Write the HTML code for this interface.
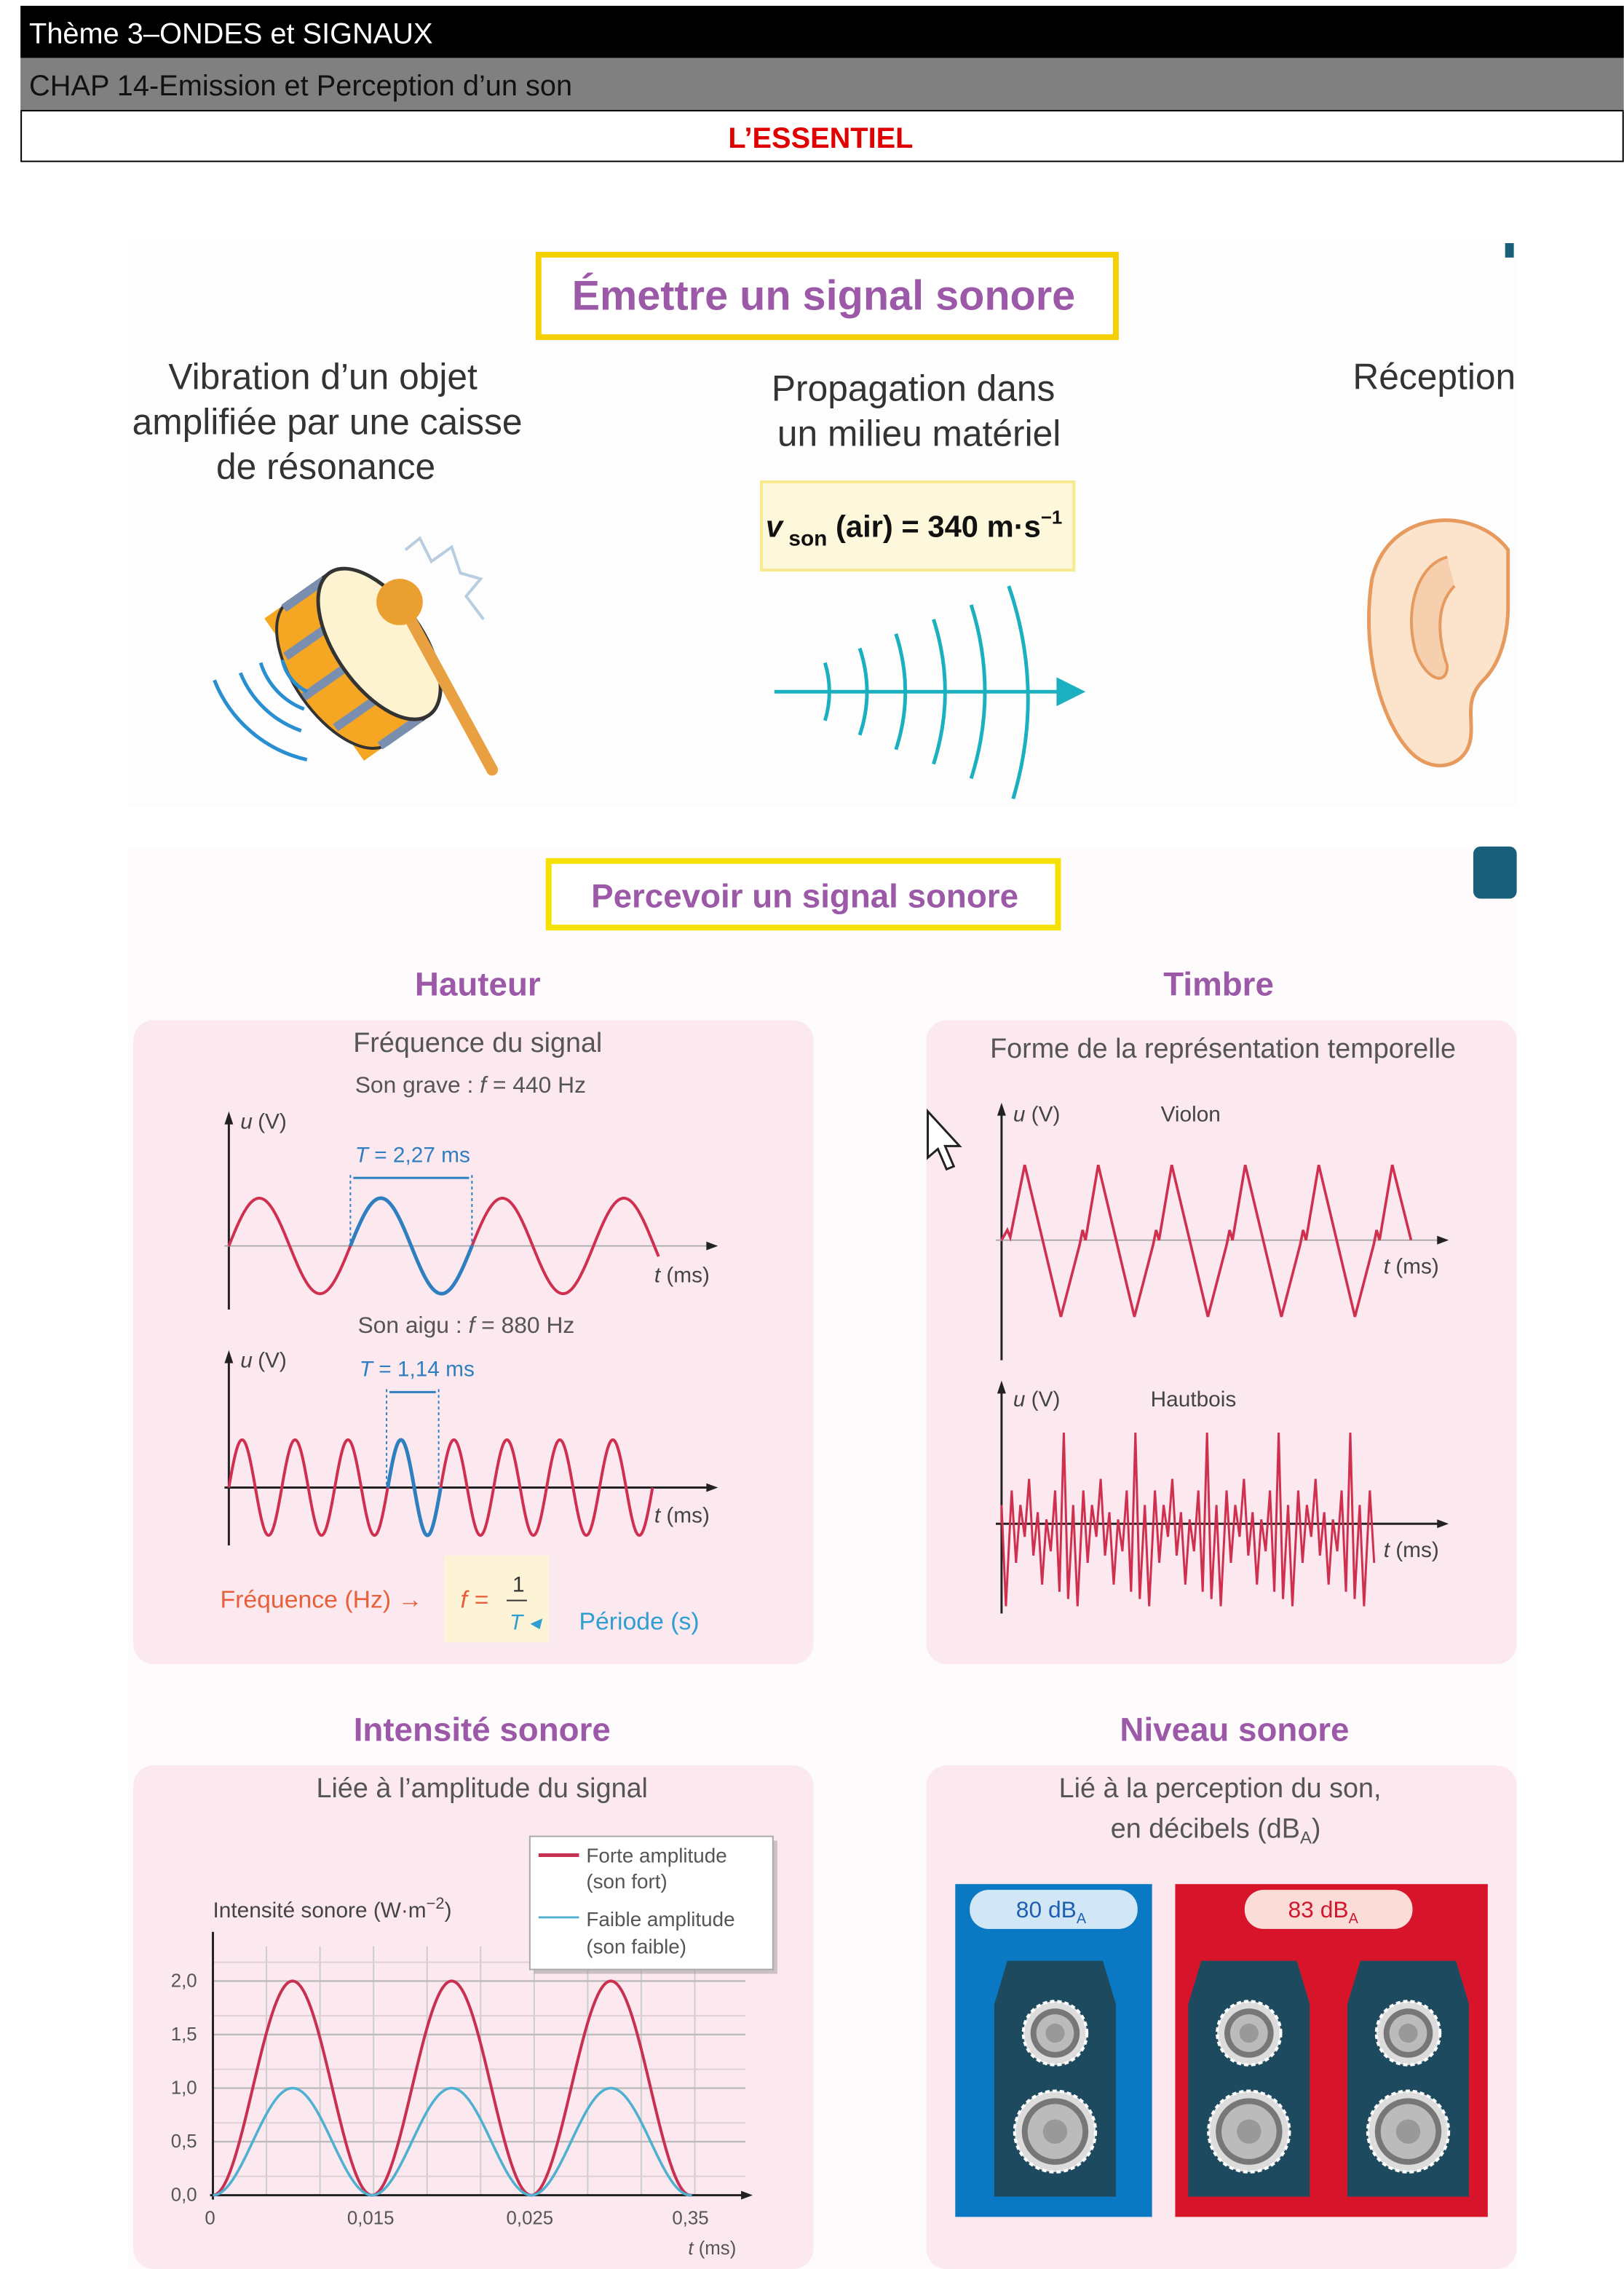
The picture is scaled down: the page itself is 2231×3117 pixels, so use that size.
<!DOCTYPE html>
<html><head><meta charset="utf-8">
<style>
html,body{margin:0;padding:0;background:#fff;}
svg{display:block;}
text{font-family:"Liberation Sans",sans-serif;}
</style></head>
<body>
<svg width="2231" height="3117" viewBox="0 0 1122 1568" xmlns="http://www.w3.org/2000/svg">
<rect x="14" y="4" width="1108" height="36" fill="#000"/>
<text x="20" y="30" font-size="20" fill="#fff">Thème 3–ONDES et SIGNAUX</text>
<rect x="14" y="40" width="1108" height="36" fill="#808080"/>
<text x="20" y="66" font-size="20" fill="#111">CHAP 14-Emission et Perception d’un son</text>
<rect x="14.5" y="76.5" width="1107" height="35" fill="#fff" stroke="#000" stroke-width="1"/>
<text x="567" y="102" font-size="20" fill="#e00000" font-weight="bold" text-anchor="middle">L’ESSENTIEL</text>

<rect x="88" y="168" width="960" height="390" fill="#fdfdfd"/>
<rect x="1040" y="168" width="6" height="10" fill="#1a5f7a"/>
<rect x="372" y="176" width="399" height="57" fill="#fff" stroke="#f5d000" stroke-width="4"/>
<text x="569" y="214" font-size="29" fill="#9b59a8" font-weight="bold" text-anchor="middle">Émettre un signal sonore</text>
<g font-size="25" fill="#333" text-anchor="middle">
<text x="223" y="269">Vibration d’un objet</text>
<text x="226" y="300">amplifiée par une caisse</text>
<text x="225" y="331">de résonance</text>
<text x="631" y="277">Propagation dans</text>
<text x="635" y="308">un milieu matériel</text>
<text x="991" y="269">Réception</text>
</g>
<rect x="526" y="333" width="216" height="61" fill="#fdf8dc" stroke="#f6e98e" stroke-width="2"/>
<text x="529" y="371" font-size="21" fill="#111" font-weight="bold"><tspan font-style="italic">v</tspan><tspan font-size="15" dy="6"> son</tspan><tspan dy="-6"> (air) = 340 m·s</tspan><tspan font-size="13" dy="-9">−1</tspan></text>

<g transform="translate(262,445) rotate(-35)">
<rect x="-55" y="-60" width="40" height="120" fill="#f5a623"/>
<ellipse cx="-35" cy="0" rx="30" ry="60" fill="#f5a623" stroke="#333" stroke-width="2"/>
<rect x="-36" y="-60" width="36" height="120" fill="#f5a623"/>
<line x1="-36" y1="-60" x2="0" y2="-60" stroke="#333" stroke-width="2"/>
<line x1="-36" y1="60" x2="0" y2="60" stroke="#333" stroke-width="2"/>
<g stroke="#7a8fb0" stroke-width="6">
<line x1="-40" y1="-58" x2="-6" y2="-58"/><line x1="-58" y1="-30" x2="-26" y2="-30"/><line x1="-64" y1="0" x2="-30" y2="0"/><line x1="-58" y1="30" x2="-26" y2="30"/><line x1="-40" y1="58" x2="-6" y2="58"/>
</g>
<ellipse cx="0" cy="0" rx="30" ry="60" fill="#fdf3d0" stroke="#333" stroke-width="2.5"/>
</g>
<path d="M280 380 L290 372 L298 388 L312 378 L318 396 L332 400 L322 412 L334 428" fill="none" stroke="#b8cde0" stroke-width="2"/>
<line x1="278" y1="418" x2="340" y2="532" stroke="#e8a040" stroke-width="8" stroke-linecap="round"/>
<circle cx="276" cy="416" r="16" fill="#eaa030"/>
<g fill="none" stroke="#2a8fd0" stroke-width="2.5">
<path d="M212 525 A90 90 0 0 1 148 470"/>
<path d="M208 505 A70 70 0 0 1 166 465"/>
<path d="M210 490 A50 50 0 0 1 180 458"/>
<path d="M212 478 A32 32 0 0 1 195 456"/>
</g>

<g fill="none" stroke="#1ab0c0" stroke-width="2.5">
<line x1="535" y1="478" x2="735" y2="478"/>
<path d="M570 458 Q576 478 570 498"/>
<path d="M594 448 Q604 478 594 508"/>
<path d="M619 438 Q632 478 619 518"/>
<path d="M645 428 Q661 478 645 528"/>
<path d="M671 418 Q690 478 671 538"/>
<path d="M697 405 Q722 478 700 552"/>
</g>
<polygon points="730,468 750,478 730,488" fill="#1ab0c0"/>

<path d="M1042 380 C1020 350 960 350 948 400 C940 450 955 500 975 520 C990 535 1010 530 1015 515 C1020 500 1010 485 1025 470 C1040 455 1042 430 1042 420 Z" fill="#fbe3cc" stroke="#e79a5e" stroke-width="2.5"/>
<path d="M1000 385 C980 390 970 420 978 450 C985 470 1000 475 1000 460 C995 445 990 420 1005 405" fill="#f6cfae" stroke="#e79a5e" stroke-width="2"/>

<rect x="88" y="585" width="960" height="983" fill="#fefbfc"/>
<rect x="1018" y="585" width="30" height="36" rx="5" fill="#1a5f7a"/>
<rect x="379" y="595" width="352" height="46" fill="#fff" stroke="#f5e000" stroke-width="4"/>
<text x="556" y="627" font-size="23" fill="#9b59a8" font-weight="bold" text-anchor="middle">Percevoir un signal sonore</text>
<g font-size="23" fill="#9b59a8" font-weight="bold" text-anchor="middle">
<text x="330" y="688">Hauteur</text>
<text x="842" y="688">Timbre</text>
<text x="333" y="1203">Intensité sonore</text>
<text x="853" y="1203">Niveau sonore</text>
</g>
<rect x="92" y="705" width="470" height="445" rx="14" fill="#fce9ef"/>
<rect x="640" y="705" width="408" height="445" rx="14" fill="#fce9ef"/>
<rect x="92" y="1220" width="470" height="348" rx="14" fill="#fce9ef"/>
<rect x="640" y="1220" width="408" height="348" rx="14" fill="#fce9ef"/>

<g fill="#555" text-anchor="middle">
<text x="330" y="727" font-size="19">Fréquence du signal</text>
<text x="325" y="755" font-size="16">Son grave : <tspan font-style="italic">f</tspan> = 440 Hz</text>
<text x="322" y="921" font-size="16">Son aigu : <tspan font-style="italic">f</tspan> = 880 Hz</text>
</g>
<g stroke="#222" stroke-width="1.5">
<line x1="158" y1="772" x2="158" y2="905"/>
<line x1="158" y1="937" x2="158" y2="1068"/>
<line x1="155" y1="1028" x2="490" y2="1028"/>
</g>
<line x1="155" y1="861" x2="490" y2="861" stroke="#aaa" stroke-width="1"/>
<polygon points="155,777 158,768 161,777" fill="#222"/>
<polygon points="155,942 158,933 161,942" fill="#222"/>
<polygon points="488,858 496,861 488,864" fill="#222"/>
<polygon points="488,1025 496,1028 488,1031" fill="#222"/>
<g font-size="15" fill="#444"><text x="166" y="780" font-style="italic">u</text><text x="178" y="780">(V)</text>
<text x="166" y="945" font-style="italic">u</text><text x="178" y="945">(V)</text>
<text x="452" y="886"><tspan font-style="italic">t</tspan> (ms)</text>
<text x="452" y="1052"><tspan font-style="italic">t</tspan> (ms)</text></g>
<path id="s1" fill="none" stroke="#d0304f" stroke-width="2"/>
<path id="s1b" fill="none" stroke="#2f7fc0" stroke-width="2.5"/>
<path id="s2" fill="none" stroke="#d0304f" stroke-width="2"/>
<path id="s2b" fill="none" stroke="#2f7fc0" stroke-width="2.5"/>
<g stroke="#2f7fc0" stroke-width="1" stroke-dasharray="2,2"><line x1="242" y1="812" x2="242" y2="861"/><line x1="326" y1="812" x2="326" y2="861"/>
<line x1="267" y1="960" x2="267" y2="1028"/><line x1="303" y1="960" x2="303" y2="1028"/></g>
<g stroke="#2f7fc0" stroke-width="1.5"><line x1="244" y1="814" x2="324" y2="814"/><line x1="269" y1="962" x2="301" y2="962"/></g>
<text x="285" y="803" font-size="15" fill="#2f7fc0" text-anchor="middle"><tspan font-style="italic">T</tspan> = 2,27 ms</text>
<text x="288" y="951" font-size="15" fill="#2f7fc0" text-anchor="middle"><tspan font-style="italic">T</tspan> = 1,14 ms</text>
<rect x="307" y="1075" width="72" height="60" fill="#fdf3d6"/>
<text x="152" y="1111" font-size="17" fill="#e8603a">Fréquence (Hz) →</text>
<text x="318" y="1111" font-size="17" fill="#e8603a" font-style="italic">f =</text>
<text x="354" y="1100" font-size="15" fill="#333">1</text>
<line x1="350" y1="1106" x2="364" y2="1106" stroke="#333"/>
<text x="352" y="1126" font-size="15" fill="#2f9ed0" font-style="italic">T ◂</text>
<text x="400" y="1126" font-size="17" fill="#2f9ed0">Période (s)</text>

<text x="845" y="731" font-size="19" fill="#555" text-anchor="middle">Forme de la représentation temporelle</text>
<g stroke="#222" stroke-width="1.5">
<line x1="692" y1="766" x2="692" y2="940"/>
<line x1="692" y1="958" x2="692" y2="1115"/>
<line x1="688" y1="1053" x2="995" y2="1053"/>
</g>
<line x1="688" y1="857" x2="995" y2="857" stroke="#aaa"/>
<polygon points="689,771 692,762 695,771" fill="#222"/>
<polygon points="689,963 692,954 695,963" fill="#222"/>
<polygon points="993,854 1001,857 993,860" fill="#222"/>
<polygon points="993,1050 1001,1053 993,1056" fill="#222"/>
<g font-size="15" fill="#444"><text x="700" y="775"><tspan font-style="italic">u</tspan> (V)</text><text x="802" y="775">Violon</text>
<text x="700" y="972"><tspan font-style="italic">u</tspan> (V)</text><text x="795" y="972">Hautbois</text>
<text x="956" y="880"><tspan font-style="italic">t</tspan> (ms)</text>
<text x="956" y="1076"><tspan font-style="italic">t</tspan> (ms)</text></g>
<path id="vi" fill="none" stroke="#d0304f" stroke-width="1.8"/>
<path id="ha" fill="none" stroke="#d0304f" stroke-width="1.5"/>
<path d="M641 768 L641 800 L648 794 L654 808 L659 806 L653 792 L663 792 Z" fill="#fff" stroke="#222" stroke-width="1.5"/>

<text x="333" y="1242" font-size="19" fill="#555" text-anchor="middle">Liée à l’amplitude du signal</text>
<text x="147" y="1325" font-size="15" fill="#444">Intensité sonore (W·m<tspan font-size="11" dy="-6">−2</tspan><tspan dy="6">)</tspan></text>
<g id="grid" stroke="#ccc" stroke-width="1"></g>
<g stroke="#bbb" stroke-width="1.2">
<line x1="147" y1="1369" x2="515" y2="1369"/><line x1="147" y1="1406" x2="515" y2="1406"/><line x1="147" y1="1443" x2="515" y2="1443"/><line x1="147" y1="1480" x2="515" y2="1480"/>
</g>
<line x1="147" y1="1335" x2="147" y2="1520" stroke="#222" stroke-width="1.5"/>
<line x1="145" y1="1517" x2="515" y2="1517" stroke="#222" stroke-width="1.5"/>
<polygon points="512,1514 520,1517 512,1520" fill="#222"/>
<path id="ir" fill="none" stroke="#c8304f" stroke-width="2"/>
<path id="ib" fill="none" stroke="#4fb0d0" stroke-width="1.8"/>
<g font-size="13" fill="#555" text-anchor="end">
<text x="136" y="1373">2,0</text><text x="136" y="1410">1,5</text><text x="136" y="1447">1,0</text><text x="136" y="1484">0,5</text><text x="136" y="1521">0,0</text></g>
<g font-size="13" fill="#555" text-anchor="middle">
<text x="145" y="1537">0</text><text x="256" y="1537">0,015</text><text x="366" y="1537">0,025</text><text x="477" y="1537">0,35</text>
<text x="492" y="1558"><tspan font-style="italic">t</tspan> (ms)</text></g>
<rect x="369" y="1272" width="168" height="92" fill="#999" opacity="0.5"/>
<rect x="366" y="1269" width="168" height="92" fill="#fff" stroke="#aaa"/>
<line x1="372" y1="1282" x2="400" y2="1282" stroke="#c8304f" stroke-width="2.5"/>
<line x1="372" y1="1325" x2="400" y2="1325" stroke="#4fb0d0" stroke-width="1.5"/>
<g font-size="14" fill="#555"><text x="405" y="1287">Forte amplitude</text><text x="405" y="1305">(son fort)</text>
<text x="405" y="1331">Faible amplitude</text><text x="405" y="1350">(son faible)</text></g>

<g font-size="19" fill="#555" text-anchor="middle"><text x="843" y="1242">Lié à la perception du son,</text>
<text x="840" y="1270">en décibels (dB<tspan font-size="12" dy="4">A</tspan><tspan dy="-4">)</tspan></text></g>
<rect x="660" y="1302" width="136" height="230" fill="#0a78c2"/>
<rect x="812" y="1302" width="216" height="230" fill="#d8142a"/>
<rect x="670" y="1306" width="116" height="27" rx="13" fill="#d2e7f6"/>
<rect x="860" y="1306" width="116" height="27" rx="13" fill="#f9ddd6"/>
<text x="702" y="1325" font-size="16" fill="#2060b0">80 dB<tspan font-size="10" dy="4">A</tspan></text>
<text x="890" y="1325" font-size="16" fill="#d01830">83 dB<tspan font-size="10" dy="4">A</tspan></text>
<g id="spk"></g>
</svg>
<script>
function P(f,x0,x1,st){var d='';for(var x=x0;x<=x1+1e-9;x+=st){d+=(d?'L':'M')+x.toFixed(2)+' '+f(x).toFixed(2);}return d;}
function S(id,d){document.getElementById(id).setAttribute('d',d);}
var T=Math.PI*2;
S('s1',P(function(x){return 861-33*Math.sin(T*(x-158)/84);},158,455,0.5));
S('s1b',P(function(x){return 861-33*Math.sin(T*(x-158)/84);},242,326,0.5));
S('s2',P(function(x){return 1028-33*Math.sin(T*(x-158)/36.6);},158,451,0.3));
S('s2b',P(function(x){return 1028-33*Math.sin(T*(x-158)/36.6);},267.8,304.4,0.3));
// violin
var d='M692 857 L696 850 L698 855 L708 805';
for(var p=708;p<960;p+=50.8){d+=' L'+(p+25)+' 910 L'+(p+38)+' 860 L'+(p+40)+' 850 L'+(p+42)+' 857 L'+(p+50.8)+' 805';}
d+=' L975 857';
S('vi',d);
// hautbois
var pat=[[0,1040],[3,1110],[7,1030],[10,1080],[13,1040],[16,1062],[19,1022],[22,1075],[25,1045],[28,1095],[31,1050],[34,1072],[37,1030],[40,1100],[43,990],[46,1105]];
var h='M692 1053';
for(var k=0;k<5.3;k++){pat.forEach(function(q){var x=692+k*49.5+q[0];if(x<=952)h+=' L'+x.toFixed(1)+' '+q[1];});}
S('ha',h);
S('ir',P(function(x){var s=Math.sin(Math.PI*(x-147)/110);return 1517-148*s*s;},147,478,0.5));
S('ib',P(function(x){var s=Math.sin(Math.PI*(x-147)/110);return 1517-74*s*s;},147,478,0.5));
var g=document.getElementById('grid'),hh='';
for(var x=147+37;x<=515;x+=37){hh+='<line x1="'+x+'" y1="1345" x2="'+x+'" y2="1517"/>';}
for(var y=1356;y<1517;y+=37){hh+='<line x1="147" y1="'+y+'" x2="515" y2="'+y+'" stroke="#e0d0d6"/>';}
g.innerHTML=hh;
var sp='',xs=[729,863,973];
xs.forEach(function(c){
sp+='<path d="M'+(c-33)+' 1355 L'+(c+33)+' 1355 L'+(c+42)+' 1385 L'+(c+42)+' 1518 L'+(c-42)+' 1518 L'+(c-42)+' 1385 Z" fill="#1d4a5f"/>';
[[1405,22],[1473,28]].forEach(function(w){
sp+='<circle cx="'+c+'" cy="'+w[0]+'" r="'+w[1]+'" fill="#dcdcdc" stroke="#fff" stroke-width="2" stroke-dasharray="3,2"/>';
sp+='<circle cx="'+c+'" cy="'+w[0]+'" r="'+(w[1]-5)+'" fill="#777"/>';
sp+='<circle cx="'+c+'" cy="'+w[0]+'" r="'+(w[1]-9)+'" fill="#bbb"/>';
sp+='<circle cx="'+c+'" cy="'+w[0]+'" r="'+(w[1]*0.3)+'" fill="#999"/>';});
});
document.getElementById('spk').innerHTML=sp;
</script>
</body></html>
